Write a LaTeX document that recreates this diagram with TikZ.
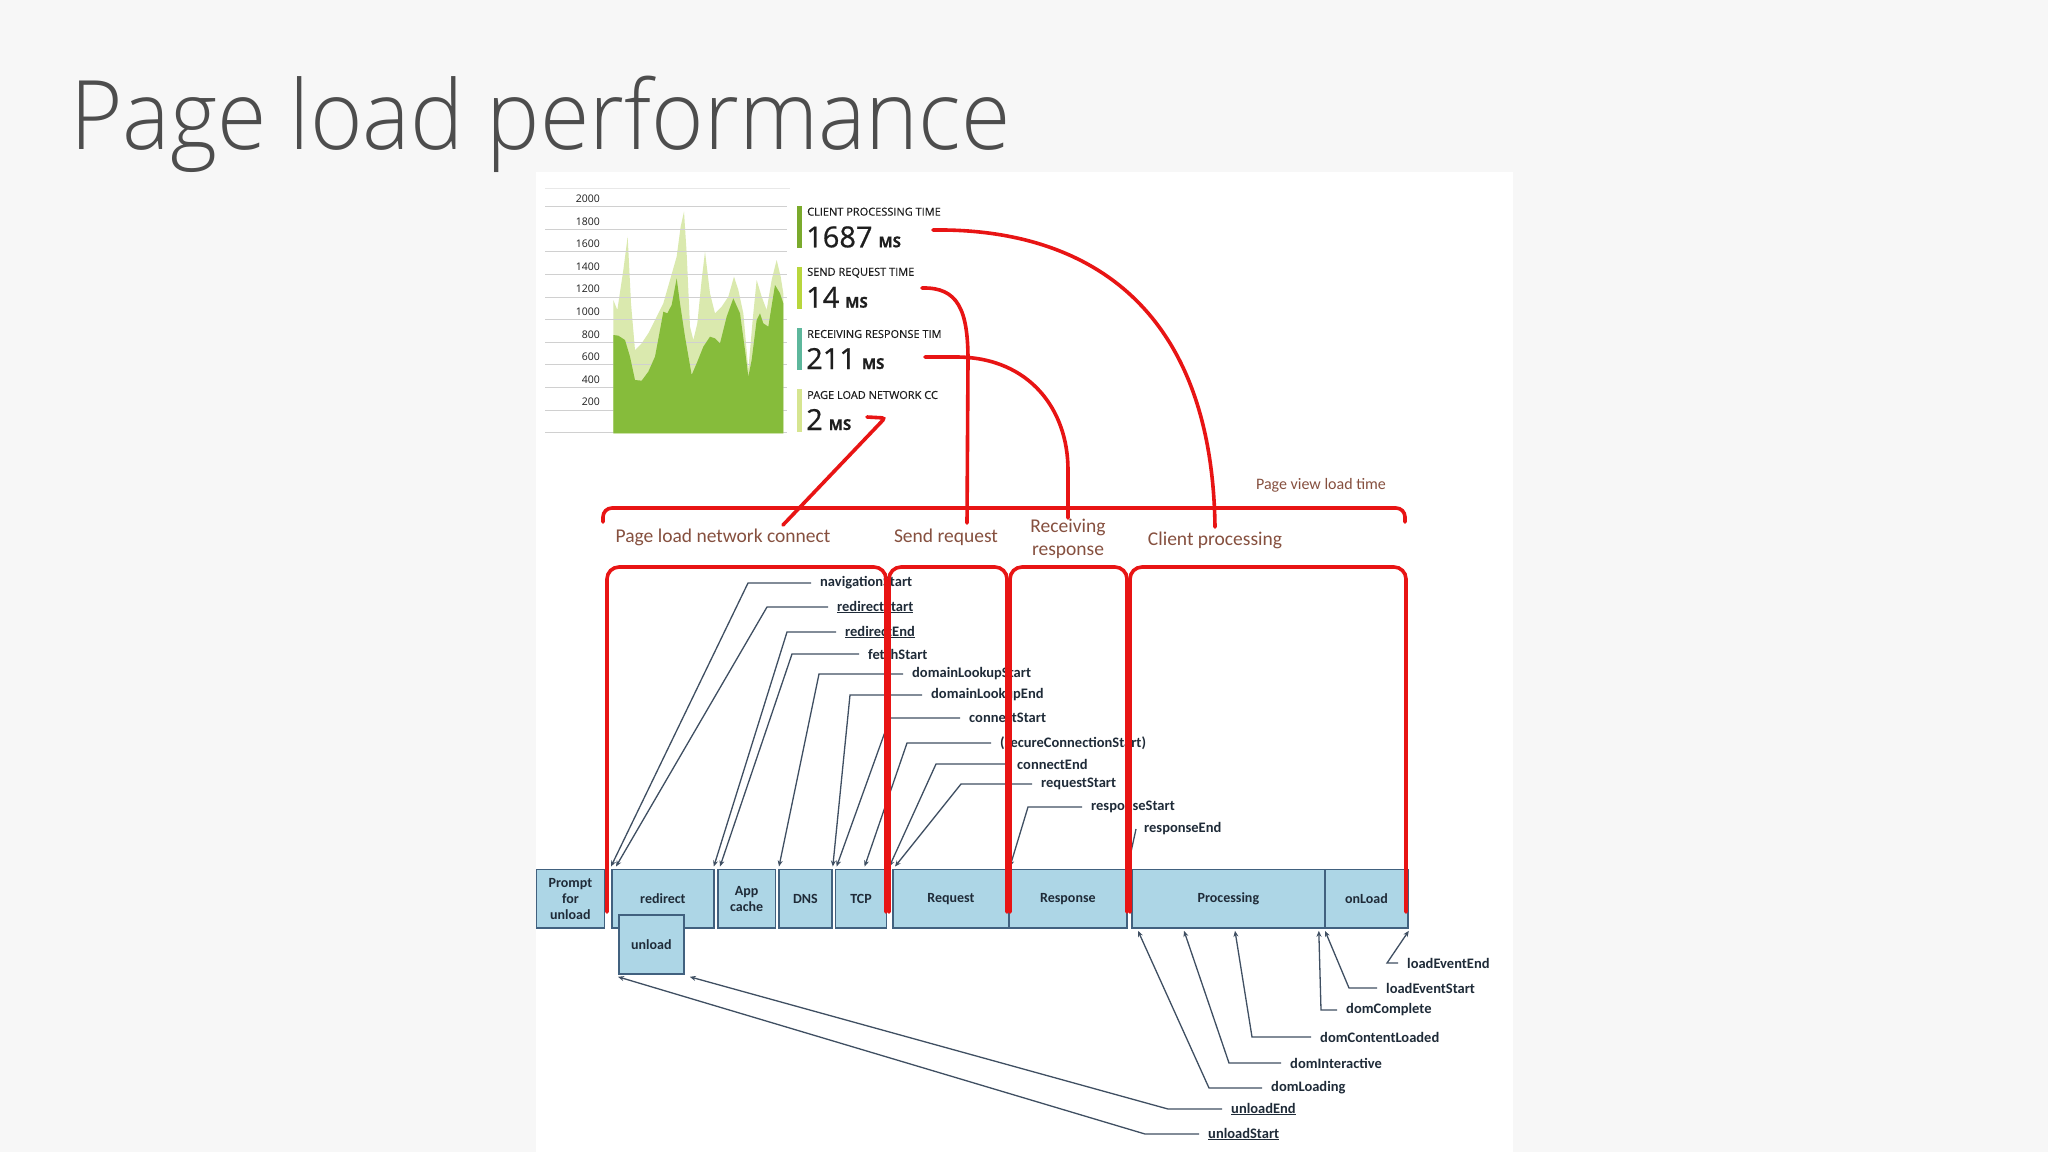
\documentclass[tikz,border=0pt]{standalone}
\usepackage{fontspec}
\setmainfont{Carlito}
\newfontfamily\osans{Open Sans}
\newfontfamily\osansbold{Open Sans}[FakeBold=0.7]
\newfontfamily\osanshead{Open Sans}[FakeBold=0.35]
\IfFontExistsTF{Open Sans Light}{\newfontfamily\titlefont{Open Sans Light}}{\IfFontExistsTF{Fira Sans Light}{\newfontfamily\titlefont{Fira Sans Light}}{\newfontfamily\titlefont{Open Sans}}}
\usetikzlibrary{arrows.meta,calc}
\definecolor{slidebg}{HTML}{F7F7F7}
\definecolor{titlegray}{HTML}{4D4D4D}
\definecolor{gridgray}{HTML}{D0D0D0}
\definecolor{darkgreen}{HTML}{86BC3B}
\definecolor{lightgreen}{HTML}{DAE9AE}
\definecolor{barA}{HTML}{7AAA2C}
\definecolor{barB}{HTML}{B8D63C}
\definecolor{barC}{HTML}{5DB79C}
\definecolor{barD}{HTML}{D6E590}
\definecolor{statink}{HTML}{1E1E1E}
\definecolor{redline}{HTML}{E81414}
\definecolor{labelbrown}{HTML}{86503F}
\definecolor{boxfill}{HTML}{ADD6E6}
\definecolor{boxline}{HTML}{41617F}
\definecolor{leadline}{HTML}{3F4F62}
\definecolor{boxink}{HTML}{1F2B38}
\tikzset{
 box/.style={draw=boxline, line width=1.8pt, fill=boxfill, inner sep=0pt, anchor=north west, align=center, font=\bfseries\fontsize{14}{16}\selectfont, text=boxink},
 lbl/.style={anchor=west, inner sep=0pt, font=\bfseries\fontsize{14.5}{16}\selectfont, text=boxink},
 lead/.style={draw=leadline, line width=1.3pt, -{Stealth[length=6pt,width=5pt]}},
 redl/.style={draw=redline, line width=3.6pt, line cap=round},
 seg/.style={redl, rounded corners=12pt},
 phase/.style={font=\fontsize{19.5}{23}\selectfont, text=labelbrown, align=center, inner sep=0pt},
 stathead/.style={anchor=west, inner sep=0pt, font=\osanshead\fontsize{11}{12}\selectfont, text=statink},
 statval/.style={anchor=base west, inner sep=0pt, font=\osansbold\fontsize{29}{30}\selectfont, text=statink},
 axislbl/.style={anchor=base east, inner sep=0pt, font=\osans\fontsize{10.5}{11}\selectfont, text=statink},
}
\newcommand{\msunit}{\hspace{6pt}{\fontsize{15}{15}\selectfont\bfseries MS}}
\begin{document}
\begin{tikzpicture}[x=1pt,y=-1pt]
\useasboundingbox (0,0) rectangle (2048,1152);
\fill[slidebg] (0,0) rectangle (2048,1152);
\fill[white] (536,172) rectangle (1513,1152);

% title
\node[anchor=base west, inner sep=0pt, text=titlegray, font=\titlefont\fontsize{96}{100}\selectfont] (title) at (70,149) {\scalebox{0.935}[1]{Page load performance}};

% chart
\draw[gridgray!50, line width=1pt] (545,188) -- (790,188);
\begin{scope}[shift={(530,170)}, scale=1/3]
\fill[lightgreen] (250,390) -- (262,420) -- (280,300) -- (293,200) -- (303,400) -- (315,540) -- (335,520) -- (355,490) -- (380,440) -- (400,400) -- (420,330) -- (440,260) -- (452,170) -- (462,125) -- (470,250) -- (480,470) -- (490,510) -- (502,460) -- (515,330) -- (525,245) -- (540,370) -- (555,430) -- (575,410) -- (595,380) -- (612,320) -- (625,360) -- (640,430) -- (655,600) -- (668,450) -- (680,330) -- (695,380) -- (710,420) -- (725,330) -- (740,270) -- (752,320) -- (760,370) -- (760,790) -- (250,790) -- cycle;
\end{scope}
\foreach \k/\v in {0/2000,1/1800,2/1600,3/1400,4/1200,5/1000,6/800,7/600,8/400,9/200} {
  \draw[gridgray, line width=1pt] (545,{206.7+22.6*\k}) -- (787,{206.7+22.6*\k});
  \node[axislbl] at (600,{202.5+22.6*\k}) {\v};
}
\draw[gridgray, line width=1pt] (545,432.7) -- (787,432.7);
\begin{scope}[shift={(530,170)}, scale=1/3]
\fill[darkgreen] (250,495) -- (265,497) -- (285,510) -- (300,560) -- (315,630) -- (335,632) -- (355,605) -- (375,560) -- (390,480) -- (400,425) -- (412,430) -- (425,405) -- (440,325) -- (450,400) -- (465,500) -- (485,615) -- (500,580) -- (520,530) -- (540,500) -- (555,505) -- (570,520) -- (590,440) -- (610,385) -- (630,430) -- (645,540) -- (655,620) -- (665,570) -- (680,450) -- (690,430) -- (700,460) -- (715,470) -- (735,345) -- (750,370) -- (760,400) -- (760,790) -- (250,790) -- cycle;
\end{scope}

% stats
\fill[barA] (796.7,206) rectangle (801.7,248.3);
\fill[barB] (796.7,266.7) rectangle (801.7,309.3);
\fill[barC] (796.7,328.3) rectangle (801.7,370);
\fill[barD] (796.7,389.3) rectangle (801.7,431.7);
\node[stathead] (h1) at (807,211.7) {CLIENT PROCESSING TIME};
\node[statval] (v1) at (806,247.3) {1687\msunit};
\node[stathead] (h2) at (807,272.7) {SEND REQUEST TIME};
\node[statval] (v2) at (806,307.7) {14\msunit};
\node[stathead] (h3) at (807,334) {RECEIVING RESPONSE TIM};
\node[statval] (v3) at (806,369) {211\msunit};
\node[stathead] (h4) at (807,395) {PAGE LOAD NETWORK CC};
\node[statval] (v4) at (806,430) {2\msunit};

% boxes
\node[box, minimum width=68pt, minimum height=58.5pt] (pfu) at (535.5,868.5) {Prompt\\for\\unload};
\node[box, minimum width=102pt, minimum height=58.5pt] (redir) at (611,868.5) {redirect};
\node[box, minimum width=65pt, minimum height=59pt] (unl) at (618,914) {unload};
\node[box, minimum width=57.5pt, minimum height=58.5pt] (appc) at (717,868.5) {App\\cache};
\node[box, minimum width=53pt, minimum height=58.5pt] (dns) at (778,868.5) {DNS};
\node[box, minimum width=51pt, minimum height=58.5pt] (tcp) at (834.6,868.5) {TCP};
\node[box, minimum width=116pt, minimum height=58.5pt] (req) at (892,868.5) {Request};
\node[box, minimum width=118pt, minimum height=58.5pt] (resp) at (1008,868.5) {Response};
\node[box, minimum width=193pt, minimum height=58.5pt] (proc) at (1131,868.5) {Processing};
\node[box, minimum width=83pt, minimum height=58.5pt] (onl) at (1324,868.5) {onLoad};

% top timing labels
\node[lbl] (navS) at (820,583) {navigationStart};
\node[lbl] (redS) at (837,607) {\underline{redirectStart}};
\node[lbl] (redE) at (845,632) {\underline{redirectEnd}};
\node[lbl] (fetS) at (868,654) {fetchStart};
\node[lbl] (dlS) at (912,674) {domainLookupStart};
\node[lbl] (dlE) at (931,695) {domainLookupEnd};
\node[lbl] (conS) at (969,718) {connectStart};
\node[lbl] (secS) at (1000,743) {(secureConnectionStart)};
\node[lbl] (conE) at (1017,764) {connectEnd};
\node[lbl] (reqS) at (1041,784) {requestStart};
\node[lbl] (resS) at (1091,807) {responseStart};
\node[lbl] (resE) at (1144,829) {responseEnd};

\draw[lead] ([xshift=-9pt]navS.west) -- (748,583) -- ([yshift=2pt]redir.north west);
\draw[lead] ([xshift=-9pt]redS.west) -- (767,607) -- ([xshift=5pt,yshift=2pt]redir.north west);
\draw[lead] ([xshift=-9pt]redE.west) -- (787,632) -- ([xshift=-1pt,yshift=2pt]redir.north east);
\draw[lead] ([xshift=-9pt]fetS.west) -- (792,654) -- ([xshift=3pt,yshift=2pt]appc.north west);
\draw[lead] ([xshift=-9pt]dlS.west) -- (819,674) -- ([xshift=1pt,yshift=2pt]dns.north west);
\draw[lead] ([xshift=-9pt]dlE.west) -- (850,695) -- ([yshift=2pt]dns.north east);
\draw[lead] ([xshift=-9pt]conS.west) -- (890,718) -- ([xshift=2pt,yshift=2pt]tcp.north west);
\draw[lead] ([xshift=-9pt]secS.west) -- (907,743) -- ([xshift=30pt,yshift=2pt]tcp.north west);
\draw[lead] ([xshift=-9pt]conE.west) -- (936,764) -- ([xshift=2pt,yshift=2pt]tcp.north east);
\draw[lead] ([xshift=-9pt]reqS.west) -- (961,784) -- ([xshift=3pt,yshift=2pt]req.north west);
\draw[lead] ([xshift=-9pt]resS.west) -- (1028,807) -- ([xshift=2pt,yshift=2pt]resp.north west);
\draw[lead] ([xshift=-8pt]resE.west) -- ([yshift=2pt]resp.north east);

% bottom timing labels
\node[lbl] (unS) at (1208,1134) {\underline{unloadStart}};
\node[lbl] (unE) at (1231,1109) {\underline{unloadEnd}};
\node[lbl] (domL) at (1271,1088) {domLoading};
\node[lbl] (domI) at (1290,1063) {domInteractive};
\node[lbl] (domCL) at (1320,1037) {domContentLoaded};
\node[lbl] (domC) at (1346,1010) {domComplete};
\node[lbl] (lES) at (1386,988) {loadEventStart};
\node[lbl] (lEE) at (1407,963) {loadEventEnd};

\draw[lead] ([xshift=-9pt]unS.west) -- (1145,1134) -- ([yshift=-2pt]unl.south west);
\draw[lead] ([xshift=-9pt]unE.west) -- (1168,1109) -- ([xshift=5pt,yshift=-2pt]unl.south east);
\draw[lead] ([xshift=-9pt]domL.west) -- (1209,1088) -- ([xshift=7pt,yshift=-2pt]proc.south west);
\draw[lead] ([xshift=-9pt]domI.west) -- (1229,1063) -- ([xshift=53pt,yshift=-2pt]proc.south west);
\draw[lead] ([xshift=-9pt]domCL.west) -- (1252,1037) -- ([xshift=104pt,yshift=-2pt]proc.south west);
\draw[lead] ([xshift=-9pt]domC.west) -- (1321,1010) -- ([xshift=-7pt,yshift=-2pt]proc.south east);
\draw[lead] ([xshift=-9pt]lES.west) -- (1349,988) -- ([xshift=1pt,yshift=-2pt]onl.south west);
\draw[lead] ([xshift=-9pt]lEE.west) -- (1387,963) -- ([yshift=-2pt]onl.south east);

% phase labels
\node[phase] (pnc) at (723,537) {Page load network connect};
\node[phase] (psr) at (946,537) {Send request};
\node[phase, align=center] (prr) at (1068,539) {Receiving\\response};
\node[phase] (pcp) at (1215,540) {Client processing};
\node[phase, font=\fontsize{16}{18}\selectfont] (pvl) at (1321,485) {Page view load time};

% red brackets
\draw[redl, rounded corners=9pt] (603,522) -- (603,508) -- (1405,508) -- (1405,522);
\draw[seg] (607,912) -- (607,567) -- (886,567) -- (886,912);
\draw[seg] (889,912) -- (889,567) -- (1007,567) -- (1007,912);
\draw[seg] (1010,912) -- (1010,567) -- (1127,567) -- (1127,912);
\draw[seg] (1130,912) -- (1130,567) -- (1406,567) -- (1406,912);

% red curves
\coordinate (c1s) at (933,230);
\coordinate (c1e) at (1215,527);
\coordinate (c2s) at (922,288);
\coordinate (c2e) at (967,523);
\coordinate (c3s) at (925,357);
\coordinate (c3e) at (1068,518);
\coordinate (c4s) at (867,417);
\coordinate (c4e) at (783,525);
\draw[redl] (c1s) .. controls (1080,228) and (1212,300) .. (c1e);
\draw[redl] (c2s) .. controls (958,287) and (968,310) .. (968,360) -- (c2e);
\draw[redl] (c3s) -- (958,357) .. controls (1030,358) and (1068,410) .. (1068,470) -- (c3e);
\draw[redl, rounded corners=3pt] (c4s) -- (885,418) -- (c4e);
\end{tikzpicture}
\end{document}
